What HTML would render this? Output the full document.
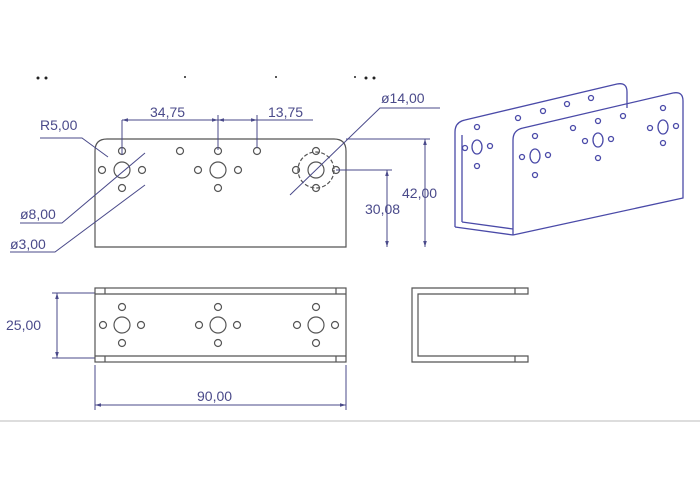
<!DOCTYPE html>
<html><head><meta charset="utf-8"><style>
html,body{margin:0;padding:0;background:#fff;}
svg{display:block}
text{font-family:"Liberation Sans",sans-serif;font-size:14px;fill:#4a4a8a}
</style></head><body>
<svg width="700" height="500" viewBox="0 0 700 500" xmlns="http://www.w3.org/2000/svg">
<defs><marker id="a" viewBox="0 0 10 10" refX="10" refY="5" markerWidth="6" markerHeight="6" orient="auto-start-reverse"><path d="M0,2 L10,5 L0,8 Z" fill="#4a4a8a"/></marker></defs>
<g fill="#222"><circle cx="38" cy="78" r="1.5"/><circle cx="46" cy="78" r="1.5"/><circle cx="185" cy="77" r="1"/><circle cx="276" cy="77" r="1"/><circle cx="355" cy="77" r="1"/><circle cx="366" cy="78" r="1.5"/><circle cx="374" cy="78" r="1.5"/></g>
<g fill="none" stroke="#555" stroke-width="1.2">
<path d="M95,247 V151 Q95,139 107,139 H334 Q346,139 346,151 V247 Z"/>
<circle cx="122" cy="170" r="8"/><circle cx="122" cy="151" r="3.5"/><circle cx="122" cy="188" r="3.5"/><circle cx="102" cy="170" r="3.5"/><circle cx="142" cy="170" r="3.5"/>
<circle cx="218" cy="170" r="8"/><circle cx="218" cy="151" r="3.5"/><circle cx="218" cy="188" r="3.5"/><circle cx="198" cy="170" r="3.5"/><circle cx="238" cy="170" r="3.5"/>
<circle cx="180" cy="151" r="3.5"/><circle cx="257" cy="151" r="3.5"/>
<circle cx="316" cy="170" r="8"/><circle cx="316" cy="151" r="3.5"/><circle cx="316" cy="188" r="3.5"/><circle cx="296" cy="170" r="3.5"/><circle cx="336" cy="170" r="3.5"/>
<circle cx="316" cy="170" r="18" stroke-dasharray="4,2"/>
</g>
<g fill="none" stroke="#4a4a8a" stroke-width="1">
<path d="M122,120 V155 M218,115 V150 M257,115 V148 M257,120 H313"/>
<path d="M122,120 H218" marker-start="url(#a)" marker-end="url(#a)"/>
<path d="M218,120 H257" marker-start="url(#a)" marker-end="url(#a)"/>
<path d="M40,138 H82 L108,157"/>
<path d="M440,108 H380 L290,195"/>
<path d="M20,223 H62 L145,153"/>
<path d="M10,252 H55 L145,185"/>
<path d="M346,139 H430 M336,170 H392"/>
<path d="M425,139 V247" marker-start="url(#a)" marker-end="url(#a)"/>
<path d="M387,170 V247" marker-start="url(#a)" marker-end="url(#a)"/>
<path d="M57,293 V358" marker-start="url(#a)" marker-end="url(#a)"/>
<path d="M52,293 H95 M52,358 H95"/>
<path d="M95,365 V410 M346,365 V410"/>
<path d="M95,405 H346" marker-start="url(#a)" marker-end="url(#a)"/>
</g>
<text x="150" y="117">34,75</text><text x="268" y="117">13,75</text>
<text x="40" y="130">R5,00</text><text x="381" y="103">ø14,00</text>
<text x="20" y="219">ø8,00</text><text x="10" y="249">ø3,00</text>
<text x="402" y="198">42,00</text><text x="365" y="214">30,08</text>
<text x="6" y="330">25,00</text><text x="197" y="401">90,00</text>
<g fill="none" stroke="#555" stroke-width="1.2">
<rect x="95" y="288" width="251" height="74"/>
<path d="M95,294 H346 M95,356 H346 M105,288 V294 M336,288 V294 M105,356 V362 M336,356 V362"/>
<circle cx="122" cy="325" r="8"/><circle cx="122" cy="307" r="3.5"/><circle cx="122" cy="343" r="3.5"/><circle cx="103" cy="325" r="3.5"/><circle cx="141" cy="325" r="3.5"/>
<circle cx="218" cy="325" r="8"/><circle cx="218" cy="307" r="3.5"/><circle cx="218" cy="343" r="3.5"/><circle cx="199" cy="325" r="3.5"/><circle cx="237" cy="325" r="3.5"/>
<circle cx="316" cy="325" r="8"/><circle cx="316" cy="307" r="3.5"/><circle cx="316" cy="343" r="3.5"/><circle cx="297" cy="325" r="3.5"/><circle cx="335" cy="325" r="3.5"/>
<path d="M528,288 H412 V362 H528 V356 H418 V294 H528 Z M515,288 V294 M515,356 V362"/>
</g>
<line x1="0" y1="421" x2="700" y2="421" stroke="#ddd" stroke-width="2"/>
<g fill="none" stroke="#4a4aa8" stroke-width="1.3">
<path d="M455,227 V132 Q455,122 465,120 L617,84 Q627,82 627,92 V108"/>
<path d="M513,235 V140 Q513,130 523,128 L673,93 Q683,91 683,101 V198 L513,235"/>
<path d="M455,227 L513,235 M462,222 L513,229 M462,222 V135"/>
<ellipse cx="477" cy="147" rx="5" ry="7"/><circle cx="477" cy="127" r="2.5"/><circle cx="477" cy="166" r="2.5"/><circle cx="465" cy="148" r="2.5"/><circle cx="490" cy="146" r="2.5"/>
<ellipse cx="535" cy="156" rx="5" ry="7"/><circle cx="535" cy="136" r="2.5"/><circle cx="535" cy="175" r="2.5"/><circle cx="522" cy="157" r="2.5"/><circle cx="548" cy="155" r="2.5"/>
<ellipse cx="598" cy="140" rx="5" ry="7"/><circle cx="598" cy="121" r="2.5"/><circle cx="598" cy="158" r="2.5"/><circle cx="585" cy="141" r="2.5"/><circle cx="611" cy="139" r="2.5"/>
<ellipse cx="663" cy="127" rx="5" ry="7"/><circle cx="663" cy="108" r="2.5"/><circle cx="663" cy="143" r="2.5"/><circle cx="650" cy="128" r="2.5"/><circle cx="676" cy="126" r="2.5"/>
<circle cx="518" cy="118" r="2.5"/><circle cx="543" cy="111" r="2.5"/><circle cx="567" cy="104" r="2.5"/><circle cx="591" cy="98" r="2.5"/><circle cx="573" cy="128" r="2.5"/><circle cx="623" cy="116" r="2.5"/>
</g>
</svg>
</body></html>
